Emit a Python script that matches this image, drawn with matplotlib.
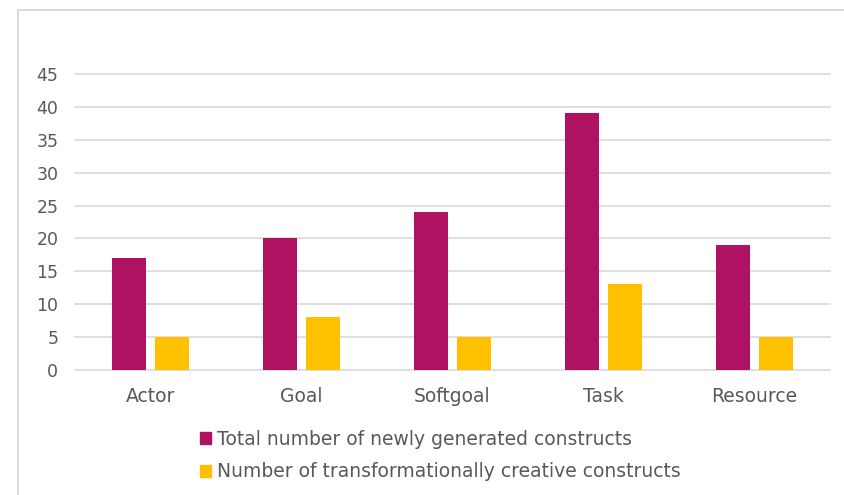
import matplotlib
matplotlib.use("Agg")
import matplotlib.pyplot as plt
from matplotlib.lines import Line2D
from matplotlib.patches import Patch

categories = ["Actor", "Goal", "Softgoal", "Task", "Resource"]
total_new = [17, 20, 24, 39, 19]
transformational = [5, 8, 5, 13, 5]
series_names = ["Total number of newly generated constructs",
                "Number of transformationally creative constructs"]
yticks = [0, 5, 10, 15, 20, 25, 30, 35, 40, 45]

c1 = "#B01262"
c2 = "#FFC000"
txt = "#595959"
grid = "#D9D9D9"
font = "DejaVu Sans"

fig = plt.figure(figsize=(8.45, 4.95), dpi=100)
bx, by = 17.5/845, 1 - 9.5/495
fig.add_artist(Line2D([bx, bx], [-0.05, by], transform=fig.transFigure, color=grid, lw=1.3))
fig.add_artist(Line2D([bx, 1.05], [by, by], transform=fig.transFigure, color=grid, lw=1.3))

ax = fig.add_axes([75/845, (495-370)/495, (830-75)/845, (370-74)/495])
x = list(range(len(categories)))
w = 0.225
off = 0.143
ax.bar([i - off for i in x], total_new, width=w, color=c1, zorder=3)
ax.bar([i + off for i in x], transformational, width=w, color=c2, zorder=3)
ax.set_xlim(-0.5, len(categories) - 0.5)
ax.set_ylim(0, 45)
ax.set_yticks(yticks)
ax.set_yticklabels([str(v) for v in yticks], fontsize=12.5, color=txt, family=font)
ax.set_xticks(x)
ax.set_xticklabels(categories, fontsize=13.5, color=txt, family=font)
ax.tick_params(axis="x", length=0, pad=12)
ax.tick_params(axis="y", length=0, pad=12)
ax.yaxis.grid(True, color=grid, lw=1.2, zorder=0)
for gl in ax.get_ygridlines():
    gl.set_clip_on(False)
for s in ax.spines.values():
    s.set_visible(False)

handles = [Patch(color=c1), Patch(color=c2)]
leg = fig.legend(handles, series_names, loc="upper left",
                 bbox_to_anchor=(183/845, 1 - 413/495), frameon=False,
                 handlelength=0.6, handleheight=0.6, handletextpad=0.3,
                 labelspacing=0.72, prop={"family": font, "size": 13.5})
for t in leg.get_texts():
    t.set_color(txt)

fig.savefig("out.png", dpi=100)
